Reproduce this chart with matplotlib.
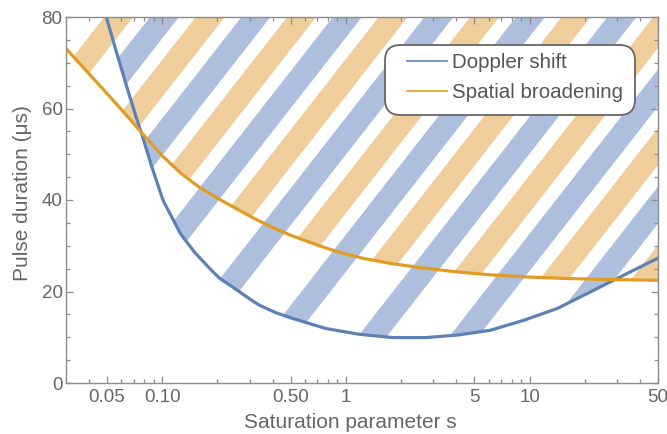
import numpy as np
import matplotlib
matplotlib.use("Agg")
import matplotlib.pyplot as plt
from matplotlib.collections import PolyCollection
from matplotlib.patches import FancyBboxPatch
from matplotlib.lines import Line2D
from matplotlib.ticker import FixedLocator, FixedFormatter, MultipleLocator

plt.rcParams['font.family'] = ['Liberation Sans', 'DejaVu Sans']

# ---- data ----
s_doppler = [0.0497, 0.0561, 0.0636, 0.0723, 0.0774, 0.0881, 0.1013, 0.1260,
             0.1502, 0.1790, 0.2054, 0.2416, 0.3091, 0.3388, 0.4137, 0.5140,
             0.7803, 1.184, 1.796, 2.729, 4.087, 6.124, 9.30, 14.11, 21.40,
             32.51, 50.0]
T_doppler = [80.0, 72.7, 65.35, 58.07, 54.5, 47.14, 39.9, 32.6,
             28.6, 25.3, 22.9, 21.0, 18.0, 17.0, 15.4, 14.1,
             11.9, 10.65, 9.93, 9.93, 10.5, 11.53, 13.71, 16.27, 19.90,
             23.56, 27.3]

s_spatial = [0.030, 0.0398, 0.0501, 0.0631, 0.0778, 0.100, 0.126, 0.158, 0.200,
             0.251, 0.316, 0.398, 0.501, 0.631, 0.794, 1.0, 1.26, 1.78, 2.51,
             3.98, 6.31, 10.0, 15.8, 25.1, 50.0]
T_spatial = [73.1, 67.7, 63.3, 58.8, 54.6, 49.7, 45.9, 42.9, 40.4,
             38.2, 36.0, 34.0, 32.3, 30.8, 29.4, 28.2, 27.2, 26.1, 25.25,
             24.3, 23.6, 23.15, 22.85, 22.65, 22.45]

series_names = ["Doppler shift", "Spatial broadening"]
xtick_vals = [0.05, 0.1, 0.5, 1, 5, 10, 50]
xtick_labels = ["0.05", "0.10", "0.50", "1", "5", "10", "50"]
xlim = (0.03, 50)
ylim = (0, 80)

blue = '#5E81B5'
orange = '#E19C24'
blue_stripe = '#AEBFDD'
orange_stripe = '#EFCE9C'
gray_axis = '#8c8c8c'
gray_text = '#666666'

fig = plt.figure(figsize=(6.67, 4.34), dpi=100)
W, H = 592.0, 366.0            # axes size in pixels
ax = fig.add_axes([66/667, 51/434, W/667, H/434])
ax.set_xscale('log')
ax.set_xlim(*xlim)
ax.set_ylim(*ylim)

# ---- striped regions ----
tan_a = np.tan(np.deg2rad(52))
period = 91.5
hw = 14.5
c0 = -4.5

def stripes(offset):
    polys = []
    for k in range(-5, 12):
        c = c0 + offset + period * k
        pts = [(c - hw, 0), (c + hw, 0), (c + hw + H / tan_a, H), (c - hw + H / tan_a, H)]
        polys.append([(px / W, py / H) for px, py in pts])
    return polys

def striped_fill(xs, ys, color, offset):
    fb = ax.fill_between(xs, ys, ylim[1], facecolor='none', edgecolor='none', linewidth=0)
    path = fb.get_paths()[0]
    pc = PolyCollection(stripes(offset), facecolors=color, edgecolors='none',
                        transform=ax.transAxes, zorder=1)
    ax.add_collection(pc)
    pc.set_clip_path(path, ax.transData)

striped_fill(s_doppler, T_doppler, blue_stripe, 0.0)
striped_fill(s_spatial, T_spatial, orange_stripe, period / 2)

# ---- curves ----
ax.plot(s_doppler, T_doppler, color=blue, lw=2.3, zorder=3, solid_joinstyle='round')
ax.plot(s_spatial, T_spatial, color=orange, lw=2.3, zorder=4, solid_joinstyle='round')

# ---- legend ----
box = FancyBboxPatch((0.5389, 0.7322), 0.4222, 0.1913,
                     boxstyle='round,pad=0,rounding_size=0.026',
                     mutation_aspect=W / H, transform=ax.transAxes,
                     facecolor='white', edgecolor='#666666', linewidth=1.3, zorder=5)
ax.add_patch(box)
handles = [Line2D([], [], color=blue, lw=1.2), Line2D([], [], color=orange, lw=1.2)]
leg = ax.legend(handles, series_names, loc='center left', bbox_to_anchor=(0.576, 0.8347),
                fontsize=14.75, frameon=False, handlelength=1.95, handletextpad=0.25,
                borderpad=0, labelspacing=0.52, borderaxespad=0)
leg.set_zorder(6)
for t in leg.get_texts():
    t.set_color('#555555')

# ---- axes styling ----
for sp in ax.spines.values():
    sp.set_color(gray_axis)
    sp.set_linewidth(1.0)
    sp.set_zorder(7)

ax.xaxis.set_major_locator(FixedLocator(xtick_vals))
ax.xaxis.set_major_formatter(FixedFormatter(xtick_labels))
minor = [m * 10.0 ** e for e in range(-2, 2) for m in (2, 3, 4, 6, 7, 8, 9)]
minor = [v for v in minor if xlim[0] <= v <= xlim[1]]
ax.xaxis.set_minor_locator(FixedLocator(minor))
ax.xaxis.set_minor_formatter(FixedFormatter([''] * len(minor)))
ax.yaxis.set_major_locator(MultipleLocator(20))
ax.yaxis.set_minor_locator(MultipleLocator(5))

ax.tick_params(which='both', direction='in', top=True, right=True, color=gray_axis,
               labelcolor=gray_text, labelsize=13.5, width=0.9)
ax.tick_params(which='major', length=5)
ax.tick_params(which='minor', length=2.6)
ax.tick_params(axis='x', which='major', pad=4)
ax.tick_params(axis='y', which='major', pad=2.5)

ax.set_xlabel('Saturation parameter s', fontsize=15, color=gray_text)
ax.set_ylabel('Pulse duration (μs)', fontsize=15, color=gray_text)
ax.xaxis.set_label_coords(0.48, -0.082)
ax.yaxis.set_label_coords(-0.0574, 0.519)

fig.savefig('out.png', dpi=100)
